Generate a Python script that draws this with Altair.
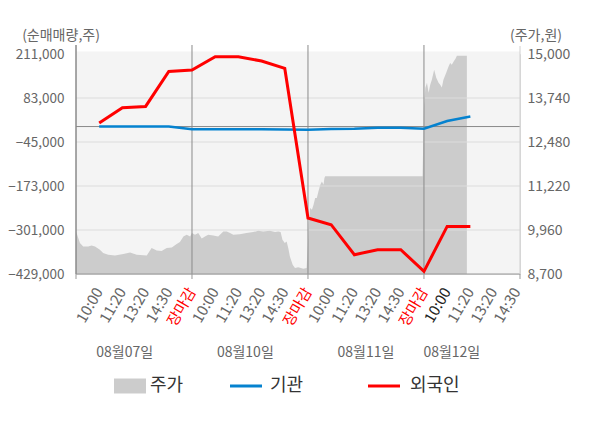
import altair as alt
import pandas as pd

FONT = "Noto Sans CJK KR"

# ---- data ----
x_labels = ["10:00", "11:20", "13:20", "14:30", "장마감",
            "10:00", "11:20", "13:20", "14:30", "장마감",
            "10:00", "11:20", "13:20", "14:30", "장마감",
            "10:00", "11:20", "13:20", "14:30"]
dates = ["08월07일", "08월10일", "08월11일", "08월12일"]
date_pos = [2.1, 7.3, 12.5, 16.2]

foreign = [10300, 54800, 58500, 160400, 164400, 203100, 203100, 190600, 169100,
           -266100, -285600, -372900, -358300, -358300, -421400, -290500, -290500]
inst = [0, 0, 0, 0, -8000, -8000, -8000, -8000, -8500,
        -9000, -7500, -6500, -3500, -3500, -6500, 16000, 29000]

price_t = [0, 0.05, 0.17, 0.31, 0.53, 0.67, 0.82, 1.03, 1.17, 1.39, 1.68, 2.04, 2.33,
           2.62, 3.05, 3.26, 3.48, 3.69, 3.91, 4.13, 4.34, 4.48, 4.63, 4.77, 4.92,
           5.0, 5.13, 5.27, 5.42, 5.56, 5.7, 5.92, 6.13, 6.35, 6.5, 6.64, 6.78, 7.06,
           7.35, 7.64, 7.86, 8.07, 8.36, 8.58, 8.72, 8.82, 8.9, 9.0, 9.08, 9.15, 9.22,
           9.34, 9.44, 9.58, 9.8, 9.94,
           10.0, 10.03, 10.09, 10.17, 10.24, 10.31, 10.38, 10.45, 10.53, 10.6, 10.67,
           10.71, 10.74, 14.94,
           15.0, 15.06, 15.13, 15.2, 15.27, 15.34, 15.44, 15.53, 15.63, 15.7, 15.77,
           15.84, 15.96, 16.06, 16.13, 16.2, 16.3, 16.36, 16.42, 16.85]
price_v = [9918, 9824, 9587, 9490, 9490, 9518, 9490, 9395, 9300, 9252, 9233, 9272, 9318,
           9252, 9233, 9443, 9376, 9358, 9443, 9462, 9558, 9615, 9775, 9824, 9775,
           9872, 9824, 9872, 9718, 9775, 9824, 9800, 9775, 9918, 9918, 9872, 9824, 9840,
           9872, 9900, 9938, 9918, 9938, 9900, 9918, 9900, 9681, 9587, 9630, 9443, 9204,
           8966, 8872, 8890, 8852, 8870,
           9600, 10110, 10588, 10540, 10682, 10874, 10874, 11062, 11254, 11348, 11254,
           11446, 11500, 11500,
           13498, 14035, 14178, 13891, 14120, 14264, 14550, 14321, 14178, 14120, 14044,
           14264, 14464, 14645, 14742, 14693, 14808, 14865, 14950, 14950]

left_ticks = [-429000, -301000, -173000, -45000, 83000, 211000]
right_ticks = [8700, 9960, 11220, 12480, 13740, 15000]
day_bounds = [0, 5, 10, 15]

# ---- tables ----
idx = list(range(1, len(foreign) + 1))
flows = pd.DataFrame({"t": idx, "foreign": foreign, "inst": inst})
price_df = pd.DataFrame({"t": price_t, "price": price_v})
grid_df = pd.DataFrame({"v": left_ticks[1:-1]})
zero_df = pd.DataFrame({"v": [0]})
bound_df = pd.DataFrame({"t": day_bounds})
date_df = pd.DataFrame({"t": date_pos, "label": dates})


def lab_color(i, s):
    if s == "장마감":
        return "#ff0000"
    if i == 16:
        return "#222222"
    return "#666666"


xlab_df = pd.DataFrame({
    "t": list(range(1, len(x_labels) + 1)),
    "label": x_labels,
    "col": [lab_color(i, s) for i, s in enumerate(x_labels, start=1)],
})
one = pd.DataFrame({"k": [0]})

W, H = 444, 220
XMAX = 19.14
xs = alt.Scale(domain=[0, XMAX], nice=False, zero=False)
ls = alt.Scale(domain=[left_ticks[0], left_ticks[-1]], nice=False, zero=False)
rs = alt.Scale(domain=[right_ticks[0], right_ticks[-1]], nice=False, zero=False)
XN = alt.X("t:Q", scale=xs, axis=None)

bg = alt.Chart(one).mark_rect(color="#f4f4f4").encode(
    x=alt.value(0), x2=alt.value(W), y=alt.value(-2.5), y2=alt.value(H))

area = alt.Chart(price_df).mark_area(color="#cccccc", opacity=1).encode(
    x=XN,
    y=alt.Y("price:Q", scale=rs, stack=None,
            axis=alt.Axis(orient="right", values=right_ticks, format=",d",
                          grid=False, ticks=False, domain=False, labelPadding=7,
                          labelFontSize=14, labelColor="#666666", labelFont=FONT,
                          title=None)),
    y2=alt.datum(right_ticks[0]),
)

grid = alt.Chart(grid_df).mark_rule(color="#dcdcdc", strokeWidth=1).encode(
    y=alt.Y("v:Q", scale=ls, axis=None), x=alt.value(0), x2=alt.value(W))

zero = alt.Chart(zero_df).mark_rule(color="#8a8a8a", strokeWidth=1).encode(
    y=alt.Y("v:Q", scale=ls, axis=None), x=alt.value(0), x2=alt.value(W))

vlines = alt.Chart(bound_df).mark_rule(color="#8a8a8a", strokeWidth=1).encode(
    x=XN, y=alt.value(-9), y2=alt.value(H))

xticks = alt.Chart(pd.DataFrame({"t": day_bounds + [XMAX]})).mark_rule(
    color="#999999", strokeWidth=1).encode(
    x=XN, y=alt.value(H), y2=alt.value(H + 5))

bottom_line = alt.Chart(one).mark_rule(color="#999999", strokeWidth=1).encode(
    x=alt.value(0), x2=alt.value(W), y=alt.value(H))

right_line = alt.Chart(one).mark_rule(color="#d0d0d0", strokeWidth=1).encode(
    x=alt.value(W), y=alt.value(-8), y2=alt.value(H))

left_line = alt.Chart(one).mark_rule(color="#8a8a8a", strokeWidth=1).encode(
    x=alt.value(0), y=alt.value(-9), y2=alt.value(H))

blue = alt.Chart(flows).mark_line(color="#0582cf", strokeWidth=2.5).encode(
    x=XN, y=alt.Y("inst:Q", scale=ls, axis=None))

red = alt.Chart(flows).mark_line(color="#ff0000", strokeWidth=3).encode(
    x=XN,
    y=alt.Y("foreign:Q", scale=ls,
            axis=alt.Axis(orient="left", values=left_ticks, format=",d", grid=False,
                          ticks=False, domain=False, labelPadding=12,
                          labelFontSize=13.5, labelColor="#666666", labelFont=FONT,
                          title=None)),
)

xlab_text = alt.Chart(xlab_df).mark_text(
    font=FONT, fontSize=15, angle=300, align="right", baseline="middle").encode(
    x=XN, y=alt.value(H + 15), text="label:N",
    color=alt.Color("col:N", scale=None))

date_text = alt.Chart(date_df).mark_text(
    font=FONT, fontSize=14, color="#666666", baseline="middle").encode(
    x=XN, y=alt.value(299), text="label:N")

title_l = alt.Chart(one).mark_text(
    text="(순매매량,주)", font=FONT, fontSize=14, color="#666666",
    align="center", baseline="middle").encode(x=alt.value(-15), y=alt.value(-18.5))
title_r = alt.Chart(one).mark_text(
    text="(주가,원)", font=FONT, fontSize=14, color="#666666",
    align="center", baseline="middle").encode(x=alt.value(460), y=alt.value(-18.5))

LY = 332
leg_rect = alt.Chart(one).mark_rect(color="#cccccc").encode(
    x=alt.value(38), x2=alt.value(70), y=alt.value(LY - 7.5), y2=alt.value(LY + 7.5))
leg_blue = alt.Chart(one).mark_rule(color="#0582cf", strokeWidth=3).encode(
    x=alt.value(154), x2=alt.value(186), y=alt.value(LY))
leg_red = alt.Chart(one).mark_rule(color="#ff0000", strokeWidth=3).encode(
    x=alt.value(292), x2=alt.value(324), y=alt.value(LY))
leg_t1 = alt.Chart(one).mark_text(text="주가", font=FONT, fontSize=18, color="#333333",
                                  align="left", baseline="middle").encode(
    x=alt.value(74), y=alt.value(LY))
leg_t2 = alt.Chart(one).mark_text(text="기관", font=FONT, fontSize=18, color="#333333",
                                  align="left", baseline="middle").encode(
    x=alt.value(194), y=alt.value(LY))
leg_t3 = alt.Chart(one).mark_text(text="외국인", font=FONT, fontSize=18, color="#333333",
                                  align="left", baseline="middle").encode(
    x=alt.value(334), y=alt.value(LY))

chart = alt.layer(
    bg, area, grid, zero, vlines, xticks, bottom_line, right_line, left_line, blue, red,
    xlab_text, date_text, title_l, title_r,
    leg_rect, leg_blue, leg_red, leg_t1, leg_t2, leg_t3
).resolve_scale(y="independent").properties(
    width=W, height=H,
    autosize=alt.AutoSizeParams(type="none"),
    padding={"left": 68, "top": 46, "right": 72, "bottom": 140},
).configure_view(strokeWidth=0).configure(font=FONT)

chart.save("out.html", embed_options={"renderer": "svg", "actions": False})
